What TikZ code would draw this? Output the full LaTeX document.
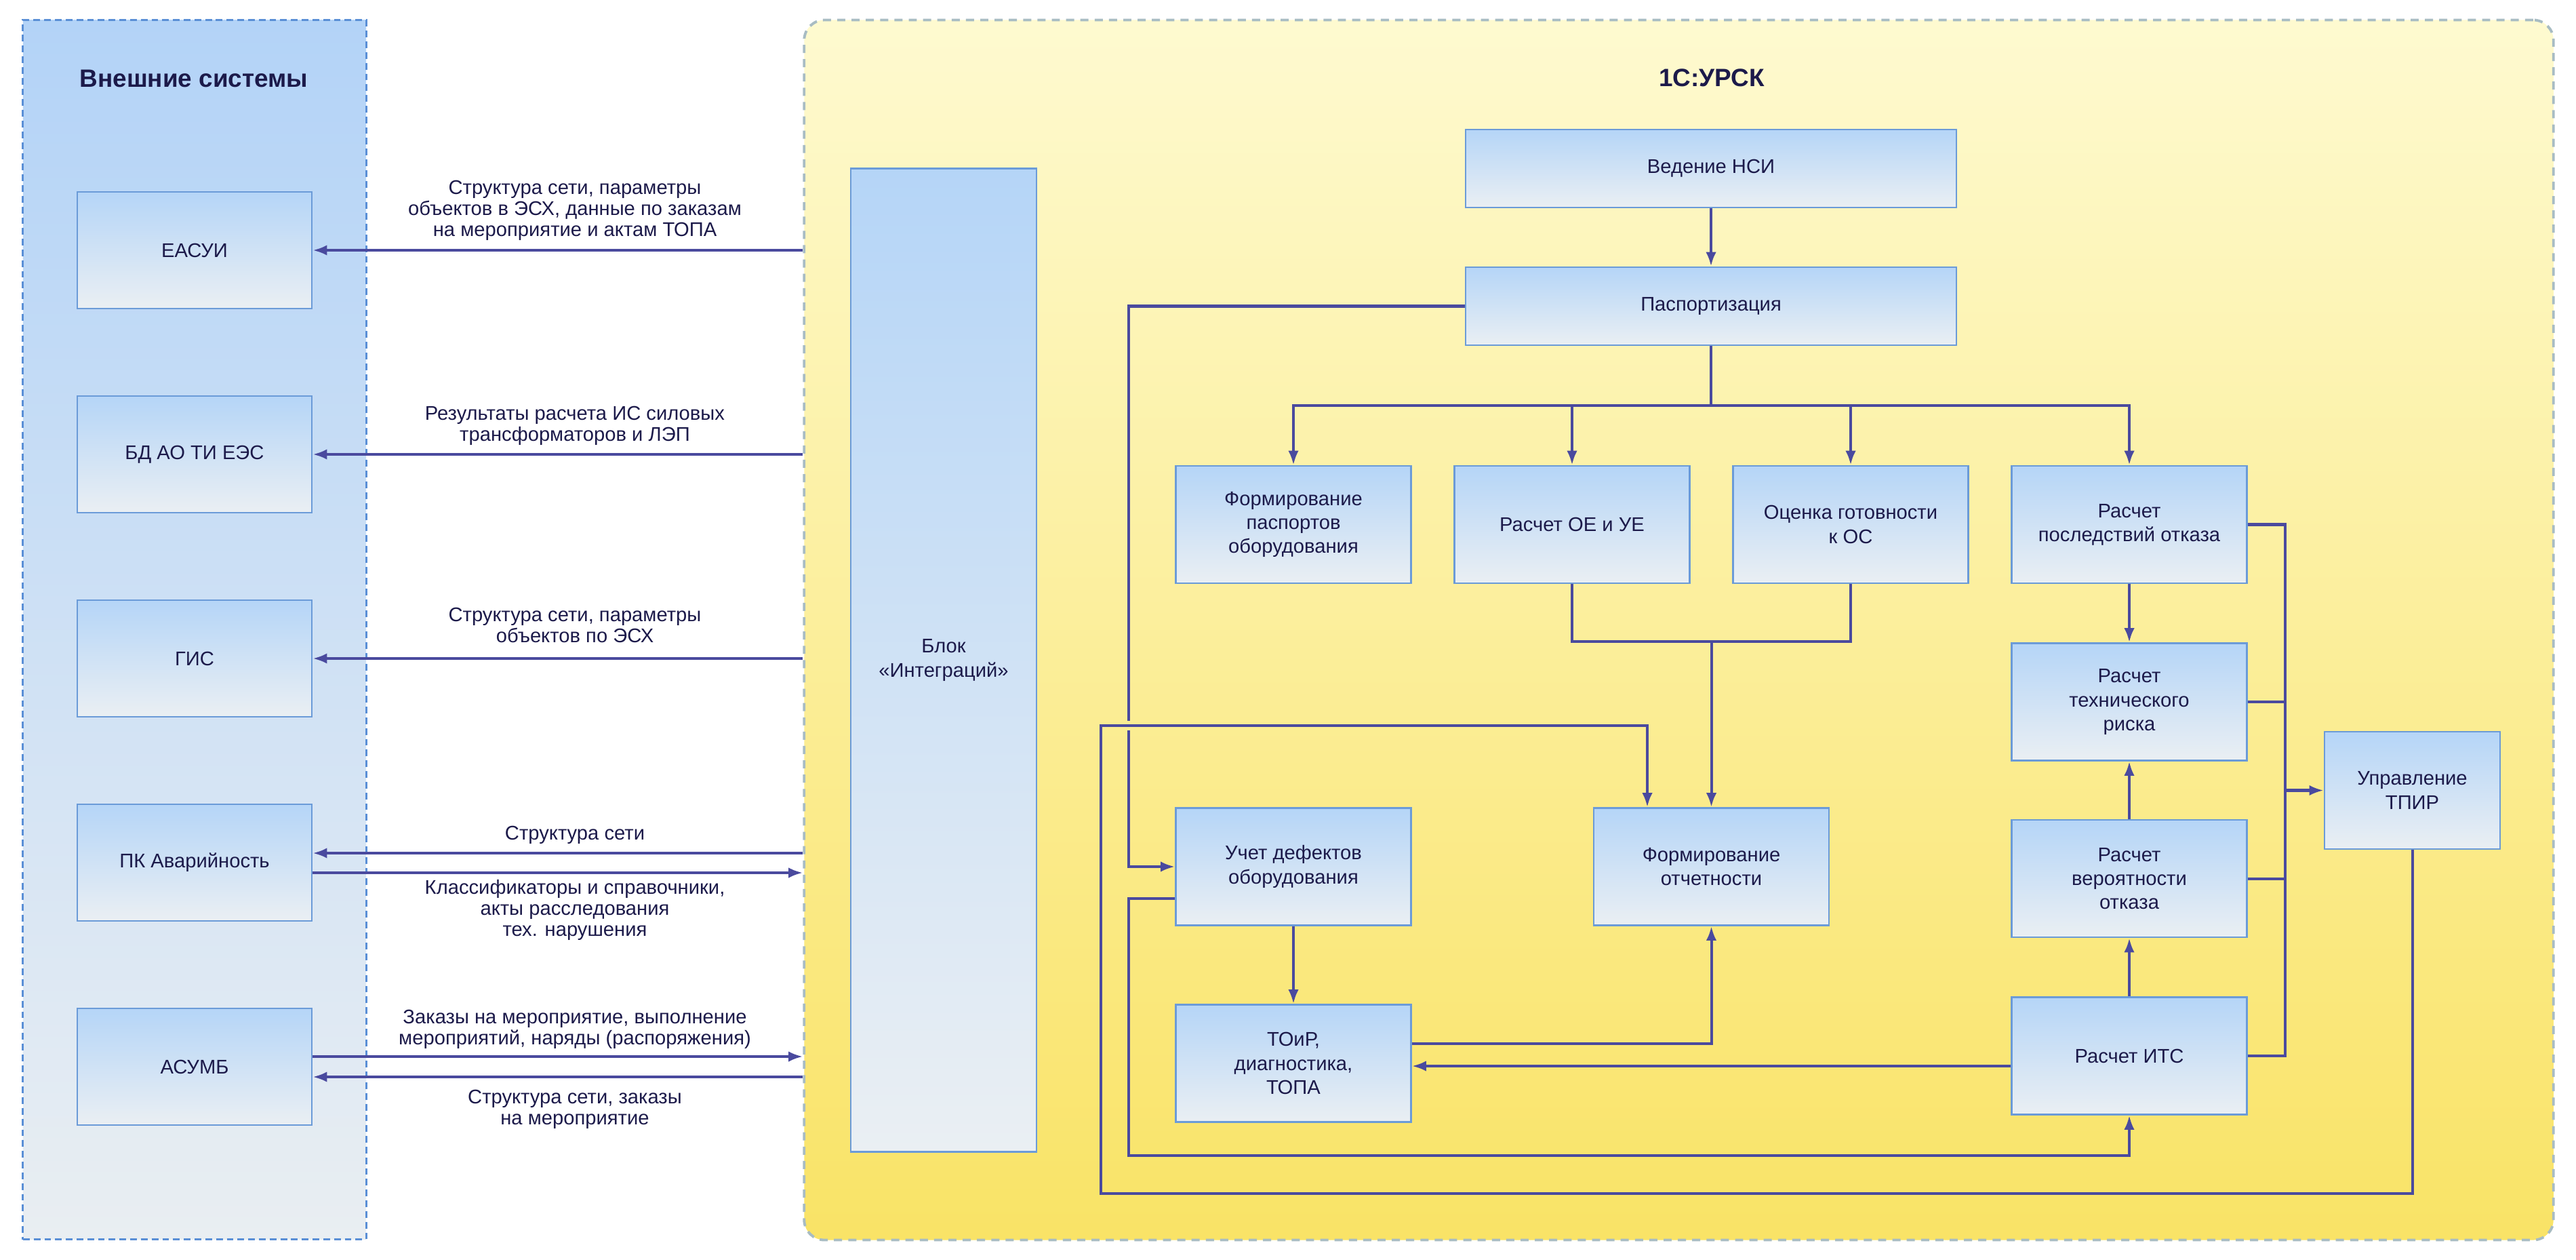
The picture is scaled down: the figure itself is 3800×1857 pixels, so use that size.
\documentclass[tikz,border=0pt]{standalone}
\usepackage{fontspec}
\setmainfont{Liberation Sans}
\usetikzlibrary{arrows.meta,calc}
\definecolor{colorln}{HTML}{4A4A9E}
\definecolor{colorbx}{HTML}{6B9BD8}
\definecolor{colorbt}{HTML}{B5D5F7}
\definecolor{colorbb}{HTML}{EAEFF3}
\definecolor{colortx}{HTML}{1C1A4A}
\definecolor{colorxt}{HTML}{B3D3F7}
\definecolor{colorxb}{HTML}{E9EEF2}
\definecolor{colorxl}{HTML}{5A8FD6}
\definecolor{coloryt}{HTML}{FEFAD0}
\definecolor{coloryb}{HTML}{F9E366}
\definecolor{coloryl}{HTML}{A8BCC3}
\tikzset{
  boxsys/.style={draw=colorbx, line width=0.7pt, top color=colorbt, bottom color=colorbb,
    text=colortx, align=center, inner sep=0pt, font=\fontsize{8.3}{10}\selectfont},
  boxext/.style={boxsys, minimum width=3.46cm, minimum height=1.72cm},
  boxmod/.style={boxsys, minimum width=3.47cm, minimum height=1.73cm},
  edgeln/.style={colorln, line width=1.15pt},
  edgear/.style={edgeln, -{Latex[length=6pt,width=4.4pt]}},
  lbl/.style={text=colortx, align=center, inner sep=0pt, font=\fontsize{8.3}{8.85}\selectfont},
  ttl/.style={text=colortx, font=\fontsize{10.5}{12}\selectfont\bfseries}
}

\begin{document}
\begin{tikzpicture}[x=0.01cm, y=-0.01cm]
\useasboundingbox (0,0) rectangle (3800,1857);
% panels
\node[draw=colorxl, line width=0.85pt, dash pattern=on 2.8pt off 1.7pt,
  top color=colorxt, bottom color=colorxb, minimum width=5.06cm,
  minimum height=17.97cm, inner sep=0pt] (ext) at (287,928.5) {};
\node[draw=coloryl, line width=1.1pt, dash pattern=on 3.4pt off 2.6pt,
  rounded corners=0.3cm, top color=coloryt, bottom color=coloryb,
  minimum width=25.79cm, minimum height=17.98cm, inner sep=0pt] (ursk) at (2476.5,929) {};
\node[ttl] (extt) at (286,116) {Внешние системы};
\node[ttl] (urskt) at (2525,115) {1С:УРСК};
% external systems
\node[boxext] (eas) at (287,369) {ЕАСУИ};
\node[boxext] (bd) at (287,670) {БД АО ТИ ЕЭС};
\node[boxext] (gis) at (287,971) {ГИС};
\node[boxext] (pk) at (287,1272) {ПК Аварийность};
\node[boxext] (asumb) at (287,1573) {АСУМБ};
% modules
\node[boxsys, minimum width=2.74cm, minimum height=14.49cm] (integ) at (1392,973.5) {Блок\\«Интеграций»};
\node[boxsys, minimum width=7.24cm, minimum height=1.15cm] (ved) at (2524,248.5) {Ведение НСИ};
\node[boxsys, minimum width=7.24cm, minimum height=1.15cm] (pasp) at (2524,451.5) {Паспортизация};
\node[boxmod] (fpass) at (1908,773.5) {Формирование\\паспортов\\оборудования};
\node[boxmod] (roe) at (2319,773.5) {Расчет ОЕ и УЕ};
\node[boxmod] (ocen) at (2730,773.5) {Оценка готовности\\к ОС};
\node[boxmod] (rpos) at (3141,773.5) {Расчет\\последствий отказа};
\node[boxmod] (rtr) at (3141,1035) {Расчет\\технического\\риска};
\node[boxmod] (rver) at (3141,1295.5) {Расчет\\вероятности\\отказа};
\node[boxmod] (rits) at (3141,1557) {Расчет ИТС};
\node[boxsys, minimum width=2.59cm, minimum height=1.73cm] (tpir) at (3558.5,1165.5) {Управление\\ТПИР};
\node[boxmod] (uchet) at (1908,1278) {Учет дефектов\\оборудования};
\node[boxmod] (toir) at (1908,1568) {ТОиР,\\диагностика,\\ТОПА};
\node[boxmod] (fotch) at (2524.5,1278) {Формирование\\отчетности};
% exchange with external systems
\coordinate (pkl) at ($(pk.east)+(0,-14)$);
\coordinate (pkr) at ($(pk.east)+(0,15)$);
\coordinate (asr) at ($(asumb.east)+(0,-15)$);
\coordinate (asl) at ($(asumb.east)+(0,15)$);
\draw[edgear] (ursk.west |- eas.east) -- (eas.east);
\draw[edgear] (ursk.west |- bd.east) -- (bd.east);
\draw[edgear] (ursk.west |- gis.east) -- (gis.east);
\draw[edgear] (ursk.west |- pkl) -- (pkl);
\draw[edgear] (pkr) -- (ursk.west |- pkr);
\draw[edgear] (asr) -- (ursk.west |- asr);
\draw[edgear] (ursk.west |- asl) -- (asl);
\node[lbl] (leas) at (848,310) {Структура сети, параметры\\объектов в ЭСХ, данные по заказам\\на мероприятие и актам ТОПА};
\node[lbl] (lbd) at (848,627.5) {Результаты расчета ИС силовых\\трансформаторов и ЛЭП};
\node[lbl] (lgis) at (848,921.5) {Структура сети, параметры\\объектов по ЭСХ};
\node[lbl] (lpka) at (848,1231) {Структура сети};
\node[lbl] (lpkb) at (848,1342) {Классификаторы и справочники,\\акты расследования\\тех. нарушения};
\node[lbl] (lasa) at (848,1518) {Заказы на мероприятие, выполнение\\мероприятий, наряды (распоряжения)};
\node[lbl] (lasb) at (848,1636) {Структура сети, заказы\\на мероприятие};
% inner flow
\coordinate (brch) at (2524,598);
\coordinate (jn) at (2524.5,946);
\coordinate (bus) at (3371,1165.5);
\draw[edgear] (ved.south) -- (pasp.north);
\draw[edgeln] (pasp.south) -- (brch);
\foreach \n in {fpass,roe,ocen,rpos}
  \draw[edgear] (brch) -| (\n.north);
\draw[edgeln] (roe.south) |- (jn) -| (ocen.south);
\draw[edgear] (jn) -- (fotch.north);
\draw[edgear] (rpos.south) -- (rtr.north);
\draw[edgear] (rver.north) -- (rtr.south);
\draw[edgear] (rits.north) -- (rver.south);
\draw[edgeln] (rpos.east) -| (bus);
\draw[edgeln] (rits.east) -| (bus);
\draw[edgeln] (rtr.east) -- (rtr.east -| bus);
\draw[edgeln] (rver.east) -- (rver.east -| bus);
\draw[edgear] (bus) -- (tpir.west);
% loops
\coordinate (olp) at (1624,1760);
\coordinate (otp) at (2430,1070);
\draw[edgear] (tpir.south) |- (olp) |- (otp) -- (otp |- fotch.north);
\coordinate (gpa) at (1665,1063);
\coordinate (gpb) at (1665,1077);
\draw[edgeln] (pasp.west) -| (gpa);
\draw[edgear] (gpb) |- (uchet.west);
\coordinate (ucl) at ($(uchet.west)+(0,47)$);
\coordinate (ubl) at (1665,1704);
\draw[edgear] (ucl) -| (ubl) -| (rits.south);
\draw[edgear] (uchet.south) -- (toir.north);
\coordinate (tol) at ($(toir.east)+(0,-29)$);
\draw[edgear] (tol) -| (fotch.south);
\draw[edgear] ($(rits.west)+(0,15)$) -- ($(toir.east)+(0,4)$);
\end{tikzpicture}
\end{document}
